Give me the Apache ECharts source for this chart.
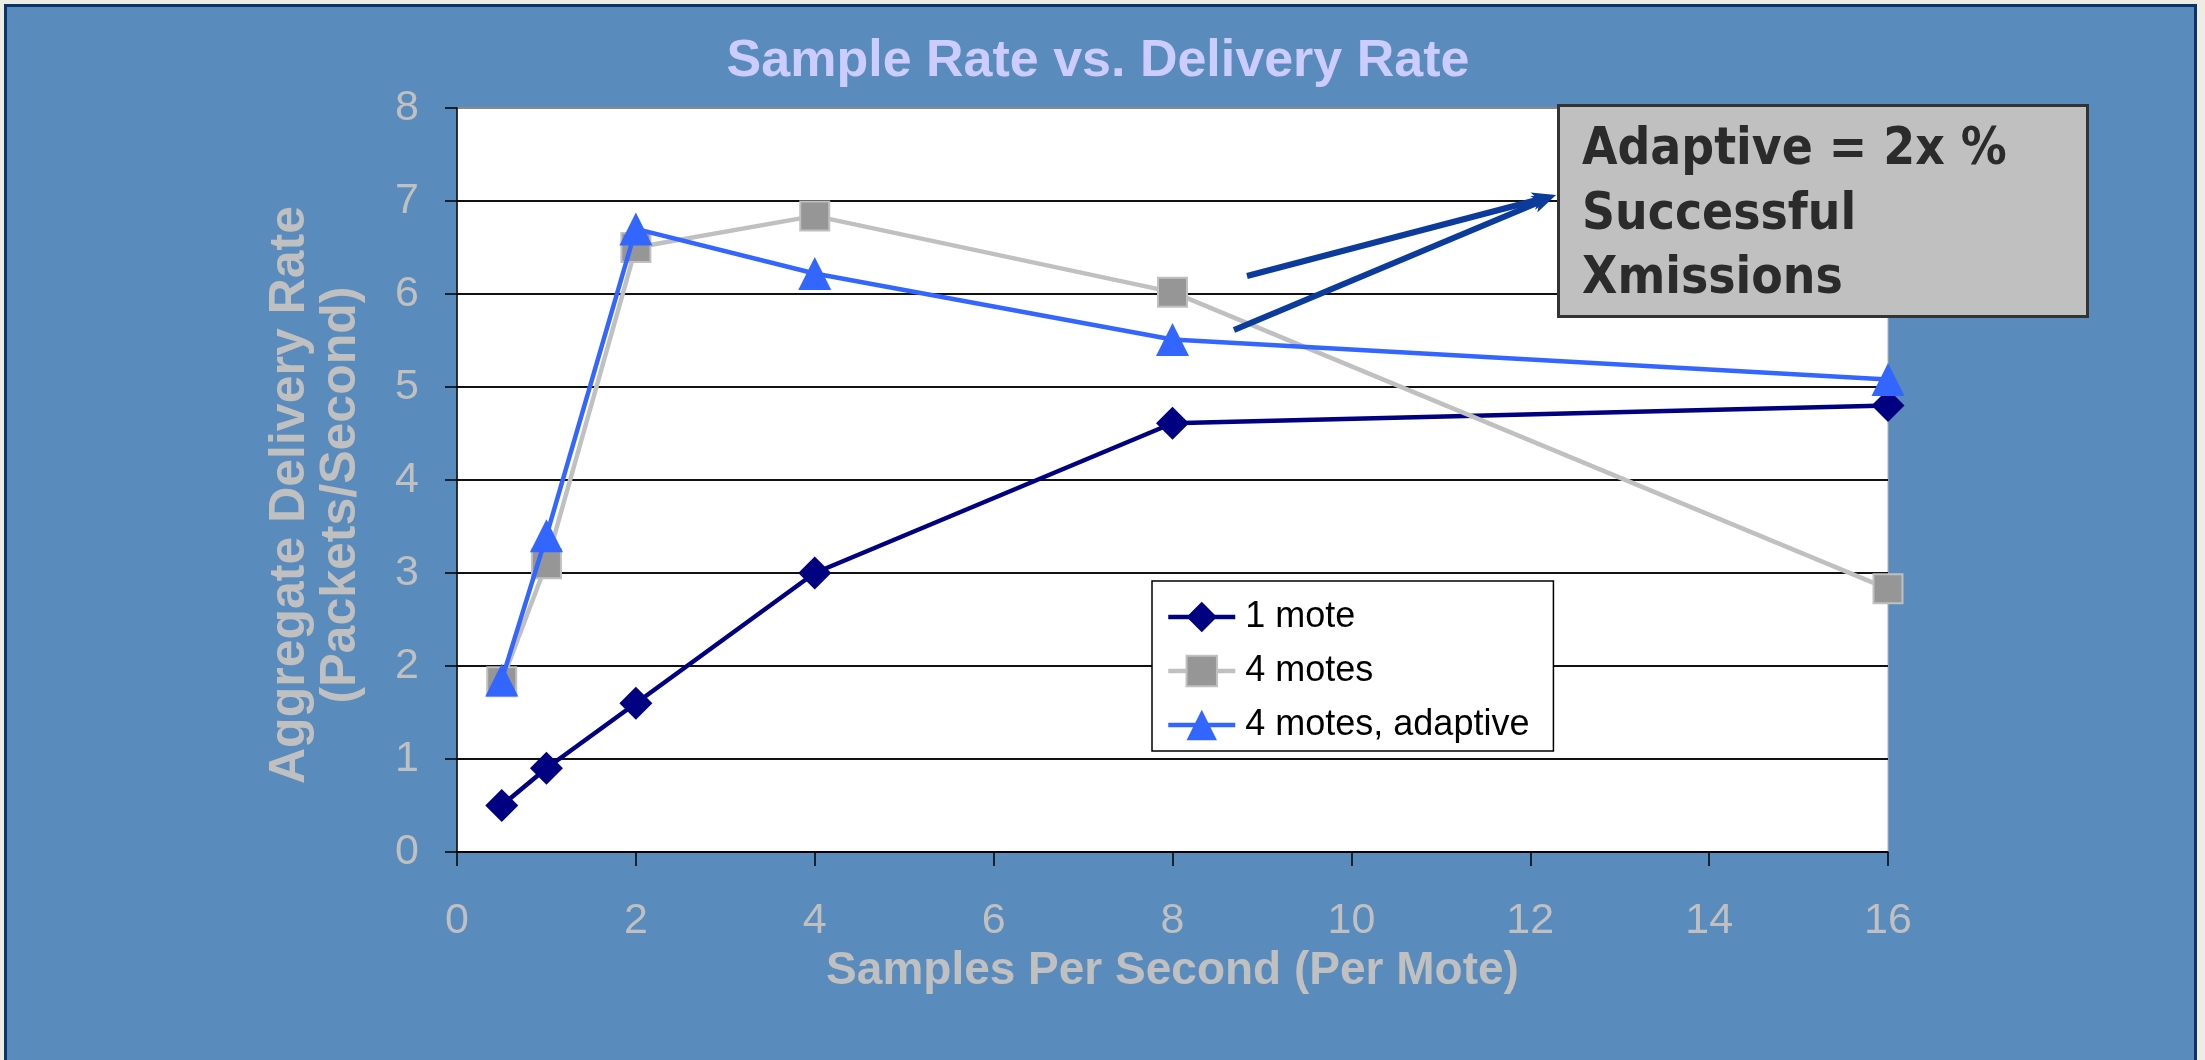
<!DOCTYPE html>
<html>
<head>
<meta charset="utf-8">
<script src="https://cdn.jsdelivr.net/npm/echarts@6/dist/echarts.min.js"></script>
<style>
  html, body { margin: 0; padding: 0; background: #EEEDE3; }
  #chart { width: 2205px; height: 1060px; }
</style>
</head>
<body>
<div id="chart"></div>
<script>
// ---- data ----
const titleText = 'Sample Rate vs. Delivery Rate';
const xAxisName = 'Samples Per Second (Per Mote)';
const yAxisName = 'Aggregate Delivery Rate\n(Packets/Second)';
const seriesNames = ['1 mote', '4 motes', '4 motes, adaptive'];
const sampleRates = [0.5, 1, 2, 4, 8, 16];
const oneMote = [0.5, 0.9, 1.6, 3.0, 4.61, 4.8];
const fourMotes = [1.83, 3.1, 6.5, 6.84, 6.02, 2.83];
const fourMotesAdaptive = [1.85, 3.4, 6.7, 6.22, 5.51, 5.08];
const noteLines = ['Adaptive = 2x %', 'Successful', 'Xmissions'];

const pair = (xs, ys) => xs.map((x, i) => [x, ys[i]]);

const chart = echarts.init(document.getElementById('chart'), null, { renderer: 'canvas' });

function arrow(x1, y1, x2, y2, color) {
  const ang = Math.atan2(y2 - y1, x2 - x1);
  const L = 24, W = 9;
  const bx = x2 - L * Math.cos(ang), by = y2 - L * Math.sin(ang);
  const px = -Math.sin(ang) * W, py = Math.cos(ang) * W;
  return [
    { type: 'line', z: 50, shape: { x1: x1, y1: y1, x2: bx + (x2 - bx) * 0.3, y2: by + (y2 - by) * 0.3 },
      style: { stroke: color, lineWidth: 6 } },
    { type: 'polygon', z: 50, shape: { points: [[x2, y2], [bx + px, by + py], [bx + (x2 - bx) * 0.25, by + (y2 - by) * 0.25], [bx - px, by - py]] },
      style: { fill: color } }
  ];
}

const font = "'Liberation Sans', Arial, sans-serif";
const noteFont = "bold 51px 'DejaVu Sans Condensed', 'DejaVu Sans', sans-serif";
const arrowColor = '#0B3B9B';

const option = {
  animation: false,
  backgroundColor: '#EEEDE3',
  title: {
    text: titleText,
    left: 1093,
    textAlign: 'center',
    top: 31,
    textStyle: { color: '#CCCCFF', fontSize: 52, fontWeight: 'bold', fontFamily: font }
  },
  grid: {
    left: 457, right: 317, top: 108, bottom: 208,
    show: true, backgroundColor: '#FFFFFF', borderColor: '#B0B0B0', borderWidth: 1
  },
  legend: {
    orient: 'vertical',
    left: 1152, top: 581,
    backgroundColor: '#FFFFFF',
    borderColor: '#000000', borderWidth: 1.5,
    padding: [18, 24, 8, 14],
    itemWidth: 67, itemHeight: 38, itemGap: 18,
    lineStyle: { width: 4.5 },
    textStyle: { color: '#000000', fontSize: 36, fontFamily: font, padding: [0, 0, 0, 5] },
    data: seriesNames
  },
  xAxis: {
    type: 'value',
    min: 0, max: 16, interval: 2,
    name: xAxisName,
    nameLocation: 'middle',
    nameGap: 85,
    nameTextStyle: { color: '#C0C0C0', fontSize: 46, fontWeight: 'bold', fontFamily: font },
    axisLine: { show: true, onZero: false, lineStyle: { color: '#000000', width: 1.5 } },
    axisTick: { show: true, length: 14, lineStyle: { color: '#000000', width: 1.5 } },
    axisLabel: { color: '#C0C0C0', fontSize: 43, fontFamily: font, margin: 48 },
    splitLine: { show: false }
  },
  yAxis: {
    type: 'value',
    min: 0, max: 8, interval: 1,
    name: yAxisName,
    nameLocation: 'middle',
    nameGap: 90,
    nameRotate: 90,
    nameTextStyle: { color: '#C0C0C0', fontSize: 50, fontWeight: 'bold', fontFamily: font, lineHeight: 51, padding: [0, 30, 0, 0] },
    axisLine: { show: true, onZero: false, lineStyle: { color: '#000000', width: 1.5 } },
    axisTick: { show: true, length: 12, lineStyle: { color: '#000000', width: 1.5 } },
    axisLabel: { color: '#C0C0C0', fontSize: 43, fontFamily: font, margin: 38 },
    splitLine: { show: true, lineStyle: { color: ['#111', '#111', '#111', '#111', '#111', '#111', '#111', '#111', '#8A8A8A'], width: 1.8 } }
  },
  series: [
    {
      name: seriesNames[0], type: 'line',
      data: pair(sampleRates, oneMote),
      symbol: 'diamond', symbolSize: [33, 33],
      lineStyle: { color: '#000080', width: 4.5 },
      itemStyle: { color: '#000080', borderColor: '#000080', borderWidth: 0 },
      z: 3
    },
    {
      name: seriesNames[1], type: 'line',
      data: pair(sampleRates, fourMotes),
      symbol: 'rect', symbolSize: 29,
      lineStyle: { color: '#C0C0C0', width: 4.5 },
      itemStyle: { color: '#969696', borderColor: '#C0C0C0', borderWidth: 2 },
      z: 4
    },
    {
      name: seriesNames[2], type: 'line',
      data: pair(sampleRates, fourMotesAdaptive),
      symbol: 'triangle', symbolSize: 33,
      lineStyle: { color: '#3366FF', width: 4.5 },
      itemStyle: { color: '#3366FF', borderWidth: 0 },
      z: 5
    }
  ],
  graphic: [
    { type: 'rect', z: -100, silent: true,
      shape: { x: 5.5, y: 5.5, width: 2190, height: 1070 },
      style: { fill: '#5A8BBD', stroke: '#0D3468', lineWidth: 3 } },
    ...arrow(1247, 276, 1556, 195, arrowColor),
    ...arrow(1234, 330, 1556, 195, arrowColor),
    { type: 'rect', z: 60,
      shape: { x: 1558.5, y: 105.5, width: 529, height: 211 },
      style: { fill: '#C0C0C0', stroke: '#333333', lineWidth: 3 } },
    { type: 'text', z: 61, x: 1582, y: 151,
      style: { text: noteLines[0], fill: '#2B2B2B', font: noteFont, textVerticalAlign: 'middle' } },
    { type: 'text', z: 61, x: 1582, y: 216,
      style: { text: noteLines[1], fill: '#2B2B2B', font: noteFont, textVerticalAlign: 'middle' } },
    { type: 'text', z: 61, x: 1582, y: 280,
      style: { text: noteLines[2], fill: '#2B2B2B', font: noteFont, textVerticalAlign: 'middle' } }
  ]
};
chart.setOption(option);
</script>
</body>
</html>
